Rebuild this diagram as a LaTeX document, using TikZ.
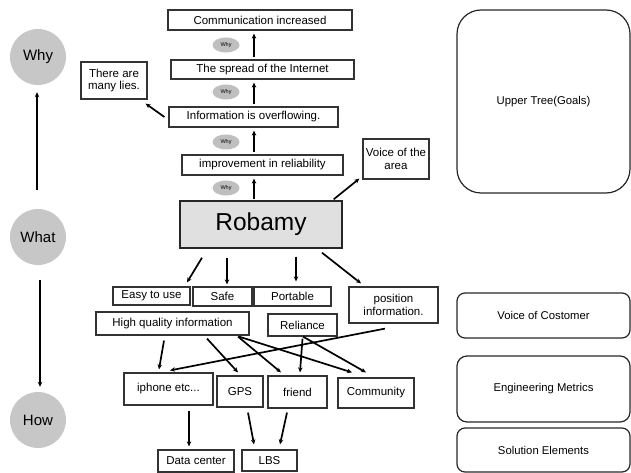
\documentclass[tikz,border=0pt]{standalone}
\usepackage{fontspec}
\setmainfont{Liberation Sans}
\usetikzlibrary{arrows.meta,calc,shapes.geometric}
\begin{document}
\begin{tikzpicture}[x=1pt,y=-1pt,
  box/.style={draw=black!80,line width=1.2pt,inner sep=0pt,align=center,font=\fontsize{11.5}{12.5}\selectfont},
  sidebox/.style={draw=black!85,line width=1.2pt,inner sep=0pt,align=center,font=\fontsize{11.3}{12}\selectfont},
  whybubble/.style={ellipse,fill=black!25,inner sep=0pt,minimum width=27pt,minimum height=15pt,font=\fontsize{5.5}{5.5}\selectfont},
  level/.style={circle,fill=black!22,inner sep=0pt,minimum size=56pt,font=\fontsize{15}{15}\selectfont},
  arr/.style={-{Stealth[length=5pt,width=4.5pt]},line width=1.7pt,black},
]
\useasboundingbox (0,0) rectangle (631,473);

% Why / What / How axis
\node[level] (why)  at (38,57)  {Why};
\node[level] (what) at (38,237) {What};
\node[level] (how)  at (38,420) {How};
\draw[arr] ([xshift=-1pt,yshift=19pt]what.north) -- ([xshift=-1pt,yshift=-7pt]why.south);
\draw[arr] ([xshift=2pt,yshift=-15pt]what.south) -- ([xshift=2pt,yshift=5pt]how.north);

% Upper tree: chain of reasons
\coordinate (ax) at (254,0);
\node[box,minimum width=184pt,minimum height=20pt] (comm)   at (260,20)    {Communication increased};
\node[box,minimum width=183pt,minimum height=19pt] (spread) at (262.5,69.5){The spread of the Internet};
\node[box,minimum width=169pt,minimum height=20pt] (info)   at (253.5,117) {Information is overflowing.};
\node[box,minimum width=161pt,minimum height=20pt] (impr)   at (262.5,165) {improvement in reliability};
\node[box,minimum width=66pt,minimum height=37pt]  (lies)   at (114,80.5)  {There are\\many lies.};
\node[box,minimum width=66pt,minimum height=40pt]  (area)   at (396,159)   {Voice of the\\area};

\node[whybubble] (w1) at (226,45)  {Why};
\node[whybubble] (w2) at (226,92)  {Why};
\node[whybubble] (w3) at (226,142) {Why};
\node[whybubble] (w4) at (226,188) {Why};

% Central product
\node[draw=black!85,fill=black!12,line width=1.4pt,minimum width=162pt,minimum height=47pt,inner sep=0pt,
      font=\fontsize{24.5}{24.5}\selectfont] (robamy) at (261,224.5) {Robamy};

\draw[arr,shorten <=2pt,shorten >=3pt] (spread.north -| ax) -- (comm.south -| ax);
\draw[arr,shorten <=2pt,shorten >=3pt] (info.north -| ax) -- (spread.south -| ax);
\draw[arr,shorten <=2pt,shorten >=3pt] (impr.north -| ax) -- (info.south -| ax);
\draw[arr,shorten <=1pt,shorten >=3pt] (robamy.north -| ax) -- (impr.south -| ax);
\draw[arr] ([xshift=-4pt]info.west) -- ([xshift=-2pt,yshift=-4pt]lies.south east);
\draw[arr] ([xshift=-9pt,yshift=1pt]robamy.north east) -- ([xshift=-3pt,yshift=1pt]area.south west);

% Voice of customer
\node[box,minimum width=77pt,minimum height=18pt]  (easy)     at (151.5,296) {Easy to use};
\node[box,minimum width=59pt,minimum height=19pt]  (safe)     at (222.5,296.5) {Safe};
\node[box,minimum width=77pt,minimum height=19pt]  (portable) at (292.5,296.5) {Portable};
\node[box,minimum width=89pt,minimum height=36pt]  (posinfo)  at (393.5,305) {position\\information.};
\node[box,minimum width=153pt,minimum height=23pt] (hq)       at (172.5,323.5) {High quality information};
\node[box,minimum width=69pt,minimum height=22pt]  (reliance) at (302.5,325) {Reliance};

\draw[arr] ([xshift=-59pt,yshift=-9pt]robamy.south) -- ([xshift=35.5pt,yshift=4pt]easy.north);
\draw[arr] ([xshift=-34pt,yshift=-9pt]robamy.south) -- ([xshift=4.5pt,yshift=2pt]safe.north);
\draw[arr] ([xshift=35pt,yshift=-8pt]robamy.south) -- ([xshift=3.5pt,yshift=5pt]portable.north);
\draw[arr] ([xshift=61pt,yshift=-4pt]robamy.south) -- ([xshift=-32.5pt,yshift=3pt]posinfo.north);

% Engineering metrics
\node[box,minimum width=89pt,minimum height=32pt] (iphone)    at (168.5,389) {iphone etc...};
\node[box,minimum width=46pt,minimum height=31pt] (gps)       at (240,391.5) {GPS};
\node[box,minimum width=59pt,minimum height=32pt] (friend)    at (297.5,392) {friend};
\node[box,minimum width=76pt,minimum height=30pt] (community) at (376,393)   {Community};

\draw[arr] ([xshift=-8.5pt,yshift=-5pt]hq.south) -- ([xshift=-9.5pt,yshift=3pt]iphone.north);
\draw[arr] ([xshift=34.5pt,yshift=-3pt]hq.south) -- ([xshift=-2pt,yshift=3pt]gps.north);
\draw[arr] ([xshift=65.5pt,yshift=-1pt]hq.south) -- ([xshift=-16.5pt,yshift=3pt]friend.north);
\draw[arr] ([xshift=66.5pt,yshift=-1pt]hq.south) -- ([xshift=-24pt,yshift=5pt]community.north);
\draw[arr] ([yshift=-2pt]reliance.south) -- ([xshift=2.5pt,yshift=3pt]friend.north);
\draw[arr] ([xshift=0.5pt,yshift=0pt]reliance.south) -- ([xshift=-10pt,yshift=5pt]community.north);
\draw[arr] ([xshift=-8.5pt,yshift=-5pt]posinfo.south) -- ([xshift=1.5pt,yshift=2pt]iphone.north);

% Solution elements
\node[box,minimum width=76pt,minimum height=22pt] (datacenter) at (196,461)   {Data center};
\node[box,minimum width=55pt,minimum height=21pt] (lbs)        at (269.5,460.5) {LBS};

\draw[arr] ([xshift=20.5pt,yshift=-5pt]iphone.south) -- ([xshift=-7pt,yshift=3pt]datacenter.north);
\draw[arr] ([xshift=8pt,yshift=-5pt]gps.south) -- ([xshift=-15.5pt,yshift=5pt]lbs.north);
\draw[arr] ([xshift=-10.5pt,yshift=-4pt]friend.south) -- ([xshift=10.5pt,yshift=5pt]lbs.north);

% Layer legend on the right
\node[sidebox,rounded corners=24pt,minimum width=173pt,minimum height=183pt] (upper) at (543.5,101.5) {Upper Tree(Goals)};
\node[sidebox,rounded corners=8pt,minimum width=173pt,minimum height=45pt]  (voc)   at (543.5,315.5) {Voice of Costomer};
\node[sidebox,rounded corners=10pt,minimum width=173pt,minimum height=66pt] (eng)   at (543.5,389)   {Engineering Metrics};
\node[sidebox,rounded corners=8pt,minimum width=173pt,minimum height=44pt]  (sol)   at (543.5,450)   {Solution Elements};
\end{tikzpicture}
\end{document}
